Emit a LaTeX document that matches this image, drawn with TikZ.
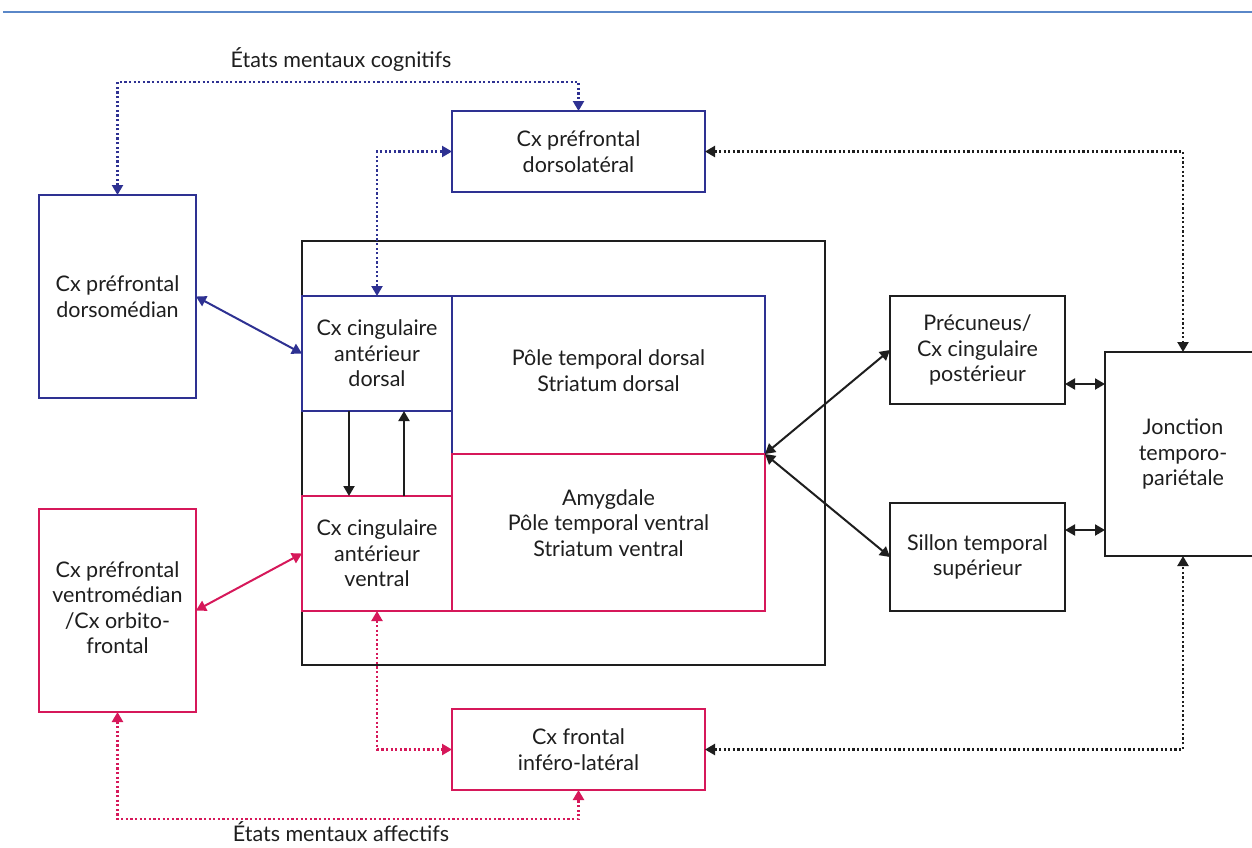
\documentclass[tikz,border=0pt]{standalone}
\usepackage{fontspec}
\setmainfont{Lato}
\usetikzlibrary{arrows.meta,calc}
\definecolor{cblue}{RGB}{46,49,146}
\definecolor{cpink}{RGB}{214,24,90}
\definecolor{cline}{RGB}{90,135,200}
\definecolor{cblack}{RGB}{30,30,30}
\newcommand{\fsz}{\fontsize{21.5}{25.5}\selectfont}
\tikzset{
  box/.style={draw, line width=2pt, inner sep=0pt, outer sep=0pt, align=center, font=\fsz, text=cblack},
  bluebox/.style={box, draw=cblue},
  pinkbox/.style={box, draw=cpink},
  blackbox/.style={box, draw=cblack},
  txt/.style={font=\fsz, text=cblack, align=center, inner sep=0pt},
  tip/.style={{Triangle[length=10pt,width=11pt]}-{Triangle[length=10pt,width=11pt]}},
  dotline/.style={line width=2.2pt, dash pattern=on 2.2pt off 2.4pt},
  solidline/.style={line width=2pt}
}
\begin{document}
\begin{tikzpicture}[x=1pt,y=-1pt]
\useasboundingbox (0,0) rectangle (1252,847);
\fill[white] (0,0) rectangle (1252,847);
\draw[cline, line width=2.5pt] (3,12) -- (1252,12);

% nodes
\node[blackbox, minimum width=523pt, minimum height=424pt] (big) at (563.5,453) {};
\node[bluebox, minimum width=253pt, minimum height=81pt] (dlpfc) at (578.5,151.5) {Cx préfrontal\\dorsolatéral};
\node[bluebox, minimum width=157pt, minimum height=203pt] (dmpfc) at (117.5,296.5) {Cx préfrontal\\dorsomédian};
\node[bluebox, minimum width=313pt, minimum height=158pt] (ptd) at (608.5,375) {};
\node[txt] (ptdt) at (608.5,370.5) {Pôle temporal dorsal\\Striatum dorsal};
\node[pinkbox, minimum width=313pt, minimum height=157pt] (amy) at (608.5,532.5) {};
\node[txt] (amyt) at (608.5,523) {Amygdale\\Pôle temporal ventral\\Striatum ventral};
\node[bluebox, minimum width=150pt, minimum height=115pt] (dacc) at (377,353.5) {Cx cingulaire\\antérieur\\dorsal};
\node[pinkbox, minimum width=150pt, minimum height=115pt] (vacc) at (377,553.5) {Cx cingulaire\\antérieur\\ventral};
\node[pinkbox, minimum width=157pt, minimum height=203pt] (vmpfc) at (117.5,610.5) {};
\node[txt] (vmpfct) at (117.5,607.5) {Cx préfrontal\\ventromédian\\/Cx orbito-\\frontal};
\node[pinkbox, minimum width=253pt, minimum height=81pt] (ifc) at (578.5,749.5) {Cx frontal\\inféro-latéral};
\node[blackbox, minimum width=175pt, minimum height=108pt] (prec) at (977.5,350) {Précuneus/\\Cx cingulaire\\postérieur};
\node[blackbox, minimum width=175pt, minimum height=108pt] (sts) at (977.5,557) {Sillon temporal\\supérieur};
\node[blackbox, minimum width=156pt, minimum height=204pt] (tpj) at (1183,454) {Jonction\\temporo-\\pariétale};

\node[txt] (cog) at (341,60) {États mentaux cognitifs};
\node[txt] (aff) at (341,832) {États mentaux affectifs};

% blue connectors
\draw[cblue, dotline, tip] (dmpfc.north) -- ++(0,-113) -| (dlpfc.north);
\draw[cblue, dotline, tip] (dacc.north) |- (dlpfc.west);
\draw[cblue, solidline, tip] (dmpfc.east) -- (dacc.west);

% pink connectors
\draw[cpink, solidline, tip] (vmpfc.east) -- (vacc.west);
\draw[cpink, dotline, tip] (vacc.south) |- (ifc.west);
\draw[cpink, dotline, tip] (vmpfc.south) -- ++(0,107) -| (ifc.south);

% black connectors
\draw[cblack, solidline, -{Triangle[length=10pt,width=11pt]}] ($(dacc.south)+(-28,0)$) -- ($(vacc.north)+(-28,0)$);
\draw[cblack, solidline, -{Triangle[length=10pt,width=11pt]}] ($(vacc.north)+(27,0)$) -- ($(dacc.south)+(27,0)$);
\draw[cblack, solidline, tip] (ptd.south east) -- (prec.west);
\draw[cblack, solidline, tip] (ptd.south east) -- (sts.west);
\coordinate (p1) at ($(prec.east)+(0,34)$);
\coordinate (s1) at ($(sts.east)+(0,-27)$);
\draw[cblack, solidline, tip] (p1) -- (p1 -| tpj.west);
\draw[cblack, solidline, tip] (s1) -- (s1 -| tpj.west);
\draw[cblack, dotline, tip] (dlpfc.east) -| (tpj.north);
\draw[cblack, dotline, tip] (ifc.east) -| (tpj.south);
\end{tikzpicture}
\end{document}
